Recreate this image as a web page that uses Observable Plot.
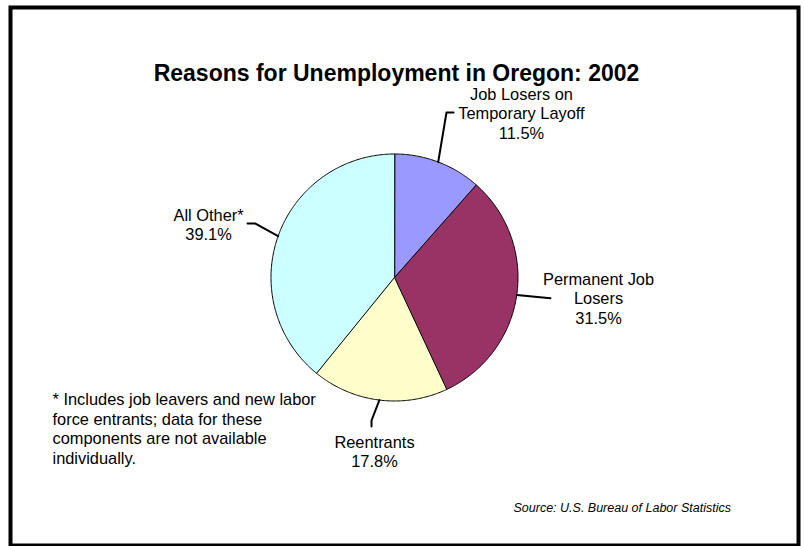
<!DOCTYPE html>
<html><head><meta charset="utf-8">
<script src="https://cdn.jsdelivr.net/npm/d3@7"></script>
<script src="https://cdn.jsdelivr.net/npm/@observablehq/plot@0.6"></script>
<style>body{margin:0;background:#fff}</style>
</head><body><div id="chart"></div>
<script>
// ---- data ----
const categories = ["Job Losers on Temporary Layoff", "Permanent Job Losers", "Reentrants", "All Other*"];
const shares = [11.5, 31.5, 17.8, 39.1];
const labelNames = ["Job Losers on\nTemporary Layoff", "Permanent Job\nLosers", "Reentrants", "All Other*"];
const colors = ["#9999FF", "#993366", "#FFFFCC", "#CCFFFF"];
const title = "Reasons for Unemployment in Oregon: 2002";
const footnote = "* Includes job leavers and new labor\nforce entrants; data for these\ncomponents are not available\nindividually.";
const source = "Source: U.S. Bureau of Labor Statistics";

// ---- layout (in pie-radius units) ----
const labelPos = [[1.028, 1.332], [1.652, -0.166], [-0.162, -1.405], [-1.506, 0.433]];
const leaderBends = [
  [[0.421, 1.336], [0.478, 1.336]],
  [[1.263, -0.168]],
  [[-0.186, -1.158], [-0.186, -1.206]],
  [[-1.126, 0.437], [-1.19, 0.437]]
];

const table = categories.map((c, i) => ({category: c, share: shares[i], name: labelNames[i]}));
const arcs = d3.pie().sort(null).value(d => d.share)(table);

// slice polygons from pie angles
const slicePts = [];
arcs.forEach(a => {
  slicePts.push({category: a.data.category, x: 0, y: 0});
  const n = Math.max(2, Math.ceil((a.endAngle - a.startAngle) / 0.01));
  for (let k = 0; k <= n; k++) {
    const t = a.startAngle + (a.endAngle - a.startAngle) * k / n;
    slicePts.push({category: a.data.category, x: Math.sin(t), y: Math.cos(t)});
  }
});

// leader lines
const leaderPts = [];
arcs.forEach((a, i) => {
  const m = (a.startAngle + a.endAngle) / 2;
  leaderPts.push({category: a.data.category, x: Math.sin(m), y: Math.cos(m)});
  leaderBends[i].forEach(p => leaderPts.push({category: a.data.category, x: p[0], y: p[1]}));
});

const labels = arcs.map((a, i) => ({
  text: a.data.name + "\n" + a.data.share.toFixed(1) + "%",
  x: labelPos[i][0], y: labelPos[i][1]
}));

const plot = Plot.plot({
  width: 804, height: 546, margin: 0,
  x: {domain: [-1, 1], range: [270.5, 517.5], axis: null},
  y: {domain: [-1, 1], range: [400.5, 153.5], axis: null},
  color: {domain: categories, range: colors},
  style: {fontFamily: "'Liberation Sans', Arial, sans-serif", background: "#fff", color: "#000"},
  marks: [
    Plot.frame({stroke: "#000", strokeWidth: 4, insetLeft: 10, insetTop: 7, insetRight: 6, insetBottom: 1}),
    Plot.line(slicePts, {x: "x", y: "y", z: "category", fill: "category", stroke: "#000", strokeWidth: 1, curve: "linear-closed"}),
    Plot.line(leaderPts, {x: "x", y: "y", z: "category", stroke: "#000", strokeWidth: 2}),
    Plot.text(labels, {x: "x", y: "y", text: "text", fontSize: 16.4, lineHeight: 1.19, lineAnchor: "middle", fill: "#000", textAnchor: "middle"}),
    Plot.text([title], {text: d => d, frameAnchor: "top-left", dx: 396, dy: 73, lineAnchor: "middle", textAnchor: "middle", fontWeight: "bold", fontSize: 23, fill: "#000"}),
    Plot.text([footnote], {text: d => d, frameAnchor: "top-left", dx: 52, dy: 427.5, lineAnchor: "middle", textAnchor: "start", fontSize: 16.4, lineHeight: 1.19, fill: "#000"}),
    Plot.text([source], {text: d => d, frameAnchor: "top-left", dx: 513, dy: 507, lineAnchor: "middle", textAnchor: "start", fontSize: 12.5, fontStyle: "italic", fill: "#000"})
  ]
});
document.getElementById("chart").appendChild(plot);
</script>
</body></html>
